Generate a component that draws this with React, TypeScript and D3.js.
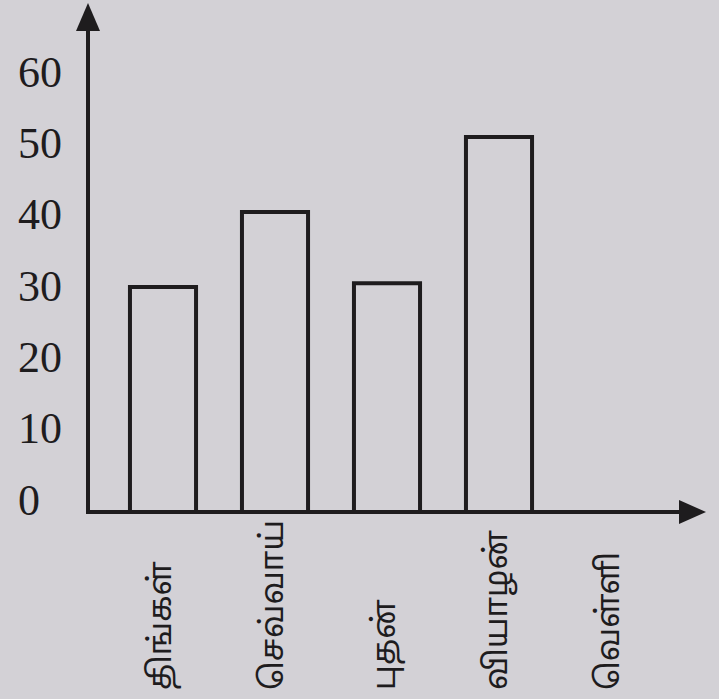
import React from 'react';
import * as d3 from 'd3';

// Days of the week (Tamil) and bar values
const days = ['திங்கள்', 'செவ்வாய்', 'புதன்', 'வியாழன்', 'வெள்ளி'];
const values: (number | null)[] = [30, 40, 30.5, 50, null];
const tickValues = [0, 10, 20, 30, 40, 50, 60];

const W = 719;
const H = 699;
const paper = '#d3d1d6';
const ink = '#1e1c1e';

const App = () => {
  const axisX = 88;
  const axisY = 512;

  const x = d3.scaleBand<string>()
    .domain(days)
    .range([107, 667])
    .paddingInner(0.41)
    .paddingOuter(0.205);

  const y = d3.scaleLinear().domain([0, 60]).range([axisY, 62]);

  // tick labels are hand-placed in the book, a little tighter than the bars
  const yLabel = d3.scaleLinear().domain([0, 60]).range([500, 72]);

  const upArrow = `M${axisX},3 L${axisX - 12},31 L${axisX + 12},31 Z`;
  const rightArrow = `M706,${axisY} L679,${axisY - 12} L679,${axisY + 12} Z`;

  return (
    <svg
      width={W}
      height={H}
      style={{ position: 'absolute', left: 0, top: 0, background: paper }}
    >
      <rect width={W} height={H} fill={paper} />

      {/* bars */}
      {days.map((d, i) => values[i] == null ? null : (
        <rect
          key={d}
          x={x(d)}
          y={y(values[i] as number)}
          width={x.bandwidth()}
          height={axisY - y(values[i] as number)}
          fill="none"
          stroke={ink}
          strokeWidth={4}
        />
      ))}

      {/* axes */}
      <line x1={axisX} y1={axisY + 2} x2={axisX} y2={20} stroke={ink} strokeWidth={4} />
      <line x1={axisX - 2} y1={axisY} x2={690} y2={axisY} stroke={ink} strokeWidth={4} />
      <path d={upArrow} fill={ink} />
      <path d={rightArrow} fill={ink} />

      {/* y tick labels */}
      {tickValues.map(t => (
        <text
          key={t}
          x={18}
          y={yLabel(t)}
          dominantBaseline="central"
          fontFamily="'Liberation Serif', 'DejaVu Serif', serif"
          fontSize={44}
          fill={ink}
        >
          {t}
        </text>
      ))}

      {/* x labels, rotated */}
      {days.map(d => {
        const cx = (x(d) as number) + x.bandwidth() / 2;
        return (
          <text
            key={d}
            transform={`translate(${cx},690) rotate(-90)`}
            dominantBaseline="central"
            fontFamily="'Noto Sans Tamil', 'Lohit Tamil', 'Noto Sans', sans-serif"
            fontSize={32}
            fill={ink}
          >
            {d}
          </text>
        );
      })}
    </svg>
  );
};

export default App;
